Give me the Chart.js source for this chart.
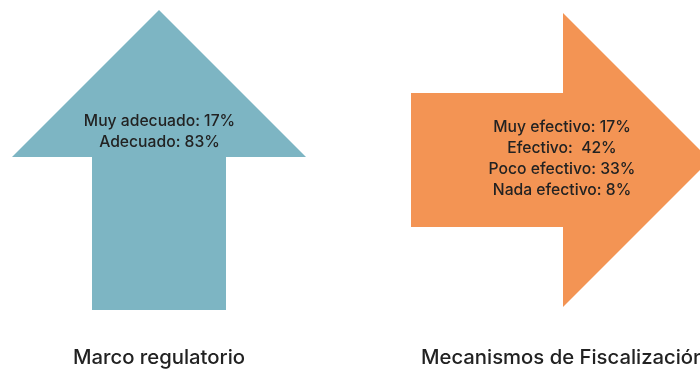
<!DOCTYPE html>
<html>
<head>
<meta charset="utf-8">
<script src="https://cdn.jsdelivr.net/npm/chart.js@4/dist/chart.umd.min.js"></script>
<style>
  html, body { margin: 0; padding: 0; background: #ffffff; }
  #wrap { width: 700px; height: 369px; position: relative; }
</style>
</head>
<body>
<div id="wrap"><canvas id="c"></canvas></div>
<script>
// Survey results shown inside each arrow
const categories = ['Marco regulatorio', 'Mecanismos de Fiscalización'];
const regulatoryLevels = ['Muy adecuado', 'Adecuado'];
const regulatoryValues = [17, 83];
const oversightLevels = ['Muy efectivo', 'Efectivo', 'Poco efectivo', 'Nada efectivo'];
const oversightValues = [17, 42, 33, 8];
const oversightSeparators = [': ', ':  ', ': ', ': '];

const arrowColors = ['#7db5c3', '#f39454'];

// Arrow geometry in canvas units (the chart's linear scales span the canvas)
const arrowShapes = [
  { dir: 'up', cx: 159, tip: 10, headBase: 157, halfHead: 147, shaftHalf: 67, tail: 310 },
  { dir: 'right', cy: 160, tip: 710, headBase: 563, halfHead: 147, shaftHalf: 67, tail: 411 }
];

const textBlocks = [
  { x: 159.5, y: 121, labels: regulatoryLevels, values: regulatoryValues, seps: [': ', ': '] },
  { x: 562, y: 127.5, labels: oversightLevels, values: oversightValues, seps: oversightSeparators }
];
const captionPos = [{ x: 159, y: 358, align: 'center' }, { x: 421, y: 358, align: 'left' }];

function arrowPath(ctx, xs, ys, s) {
  const X = v => xs.getPixelForValue(v);
  const Y = v => ys.getPixelForValue(v);
  ctx.beginPath();
  if (s.dir === 'up') {
    ctx.moveTo(X(s.cx), Y(s.tip));
    ctx.lineTo(X(s.cx + s.halfHead), Y(s.headBase));
    ctx.lineTo(X(s.cx + s.shaftHalf), Y(s.headBase));
    ctx.lineTo(X(s.cx + s.shaftHalf), Y(s.tail));
    ctx.lineTo(X(s.cx - s.shaftHalf), Y(s.tail));
    ctx.lineTo(X(s.cx - s.shaftHalf), Y(s.headBase));
    ctx.lineTo(X(s.cx - s.halfHead), Y(s.headBase));
  } else {
    ctx.moveTo(X(s.tip), Y(s.cy));
    ctx.lineTo(X(s.headBase), Y(s.cy + s.halfHead));
    ctx.lineTo(X(s.headBase), Y(s.cy + s.shaftHalf));
    ctx.lineTo(X(s.tail), Y(s.cy + s.shaftHalf));
    ctx.lineTo(X(s.tail), Y(s.cy - s.shaftHalf));
    ctx.lineTo(X(s.headBase), Y(s.cy - s.shaftHalf));
    ctx.lineTo(X(s.headBase), Y(s.cy - s.halfHead));
  }
  ctx.closePath();
}

const arrowPlugin = {
  id: 'arrowInfographic',
  beforeDatasetsDraw(chart) {
    const { ctx, scales: { x, y } } = chart;
    ctx.save();
    arrowShapes.forEach((s, i) => {
      arrowPath(ctx, x, y, s);
      ctx.fillStyle = arrowColors[i];
      ctx.fill();
    });

    ctx.fillStyle = '#222222';
    ctx.textBaseline = 'middle';
    ctx.textAlign = 'center';
    ctx.font = '500 15.7px Inter, "Noto Sans", sans-serif';
    textBlocks.forEach(b => {
      b.labels.forEach((lab, j) => {
        const txt = lab + b.seps[j] + b.values[j] + '%';
        ctx.fillText(txt, x.getPixelForValue(b.x), y.getPixelForValue(b.y + j * 20.8));
      });
    });

    ctx.font = '500 20.3px Inter, "Noto Sans", sans-serif';
    categories.forEach((c, i) => {
      const p = captionPos[i];
      ctx.textAlign = p.align;
      ctx.fillText(c, x.getPixelForValue(p.x), y.getPixelForValue(p.y));
    });
    ctx.restore();
  }
};

new Chart(document.getElementById('c'), {
  type: 'scatter',
  data: { datasets: [{ data: [], pointRadius: 0 }] },
  options: {
    responsive: true,
    maintainAspectRatio: false,
    animation: false,
    layout: { padding: 0 },
    plugins: { legend: { display: false }, tooltip: { enabled: false } },
    scales: {
      x: { type: 'linear', min: 0, max: 700, display: false },
      y: { type: 'linear', min: 0, max: 369, reverse: true, display: false }
    }
  },
  plugins: [arrowPlugin]
});
</script>
</body>
</html>
